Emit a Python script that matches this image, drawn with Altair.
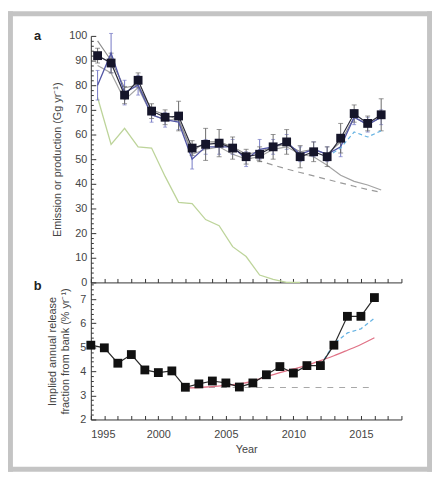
import altair as alt
import pandas as pd

# ---------------- data ----------------
years = list(range(1995, 2017))

# panel a: emissions (Gg/yr)
obs_a = [92, 89, 76, 82, 69.5, 67, 67.5, 54.5, 56, 56.5, 54.5, 51, 52, 55, 57, 51, 53, 51, 58.5, 68.5, 64.5, 68]
obs_a_err = [3, 4, 3.5, 3, 3, 3, 6, 3, 6.5, 5.5, 4.5, 3, 3, 5, 5, 4.5, 4, 4, 6, 3.5, 3, 6.5]
blue_a = [80, 93, 77, 80, 68, 66, 65, 50, 55, 55, 55, 50, 54, 55, 57, 52, 54, 52, 55, 67, 64, 67]
blue_a_err = [6, 8, 5, 4, 3, 3, 3, 4, 3, 3, 3, 3, 4, 3, 3, 3, 3, 3, 4, 3, 3, 3]
grey1_a = [98, 90, 79, 80, 70, 68, 66, 53, 57, 57, 55, 52, 53, 55, 56, 53, 54, 52, 57, 67, 64, 67]
grey2_a = [88, 85, 74, 79, 68, 66, 66, 52, 54, 55, 52, 50, 51, 54, 55, 52, 51, 47.5, 43.5, 41, 39.5, 37.5]

dash_a_years = list(range(2006, 2017))
dash_a = [51, 49.3, 47.6, 46, 44.6, 43.2, 41.8, 40.4, 39, 37.7, 36.5]

lblue_a_years = [2012, 2013, 2014, 2015, 2016]
lblue_a = [51, 54.5, 61, 59, 61.5]

prod_years = list(range(1995, 2011))
prod_a = [75, 56, 62.5, 55, 54.5, 43, 32.5, 32, 25.5, 23, 14.5, 10.5, 3, 1.2, 0, 0]

# panel b: implied release fraction (%/yr)
obs_b = [5.09, 4.98, 4.34, 4.70, 4.06, 3.95, 4.02, 3.34, 3.48, 3.60, 3.52, 3.35, 3.52, 3.86,
         4.20, 3.93, 4.24, 4.24, 5.09, 6.29, 6.29, 7.07]
red_years = list(range(2002, 2017))
red_b = [3.3, 3.33, 3.37, 3.42, 3.48, 3.6, 3.78, 3.95, 4.1, 4.25, 4.45, 4.65, 4.88, 5.12, 5.4]
lblue_b_years = [2012, 2013, 2014, 2015, 2016]
lblue_b = [4.24, 5.15, 5.6, 5.77, 6.21]
dash_b_years = [2002, 2016]
dash_b = [3.33, 3.33]

# ---------------- styling ----------------
FONT = "Liberation Sans"
W, HA, HB = 315, 250, 139
AX = "#333333"
TXT = "#444444"
FRAME = "#c4c4c4"

xs = alt.Scale(domain=[1995, 2018], nice=False, zero=False)
ysa = alt.Scale(domain=[0, 100], nice=False, zero=True)
ysb = alt.Scale(domain=[2, 7.7], nice=False, zero=False)

dfa = pd.DataFrame({"year": years, "obs": obs_a, "obs_err": obs_a_err, "blue": blue_a,
                    "blue_err": blue_a_err, "grey1": grey1_a, "grey2": grey2_a})
df_dash_a = pd.DataFrame({"year": dash_a_years, "v": dash_a})
df_lblue_a = pd.DataFrame({"year": lblue_a_years, "v": lblue_a})
df_prod = pd.DataFrame({"year": prod_years, "v": prod_a})

dfb = pd.DataFrame({"year": years, "v": obs_b})
df_red = pd.DataFrame({"year": red_years, "v": red_b})
df_lblue_b = pd.DataFrame({"year": lblue_b_years, "v": lblue_b})
df_dash_b = pd.DataFrame({"year": dash_b_years, "v": dash_b})

one = pd.DataFrame({"k": [0]})

# axes
left_a = alt.Axis(values=list(range(0, 101, 10)), ticks=False, labelPadding=4, grid=False,
                  title="Emission or production (Gg yr⁻¹)", titlePadding=6,
                  domainColor=AX)
bottom_a = alt.Axis(labels=False, ticks=False, title=None, grid=False, domainColor=AX)
yticks_a = alt.Axis(orient="right", offset=-W, values=list(range(0, 101, 2)), labels=False,
                    domain=False, title=None, grid=False, tickColor=AX,
                    tickSize={"condition": {"test": "datum.value % 10 === 0", "value": 5}, "value": 2.5})
xticks_a = alt.Axis(orient="top", offset=-HA, values=list(range(1995, 2019)), labels=False,
                    domain=False, title=None, grid=False, tickSize=4, tickColor=AX)

left_b = alt.Axis(values=[2, 3, 4, 5, 6, 7], ticks=False, labelPadding=5, grid=False,
                  title=["Implied annual release", "fraction from bank (% yr⁻¹)"],
                  titlePadding=10, domainColor=AX)
bottom_b = alt.Axis(values=[1995, 2000, 2005, 2010, 2015], format="d", ticks=False,
                    labelPadding=9, title="Year", titlePadding=4, grid=False, domainColor=AX)
yticks_b = alt.Axis(orient="right", offset=-W, values=[round(2 + 0.2 * i, 1) for i in range(29)],
                    labels=False, domain=False, title=None, grid=False, tickColor=AX,
                    tickSize={"condition": {"test": "abs(datum.value - round(datum.value)) < 0.01",
                                            "value": 5}, "value": 2.5})
xticks_b = alt.Axis(orient="top", offset=-HB, values=list(range(1995, 2019)), labels=False,
                    domain=False, title=None, grid=False, tickSize=4, tickColor=AX)

# ---------------- panel a ----------------
ba = alt.Chart(dfa).transform_calculate(
    xp="datum.year + 0.5",
    olo="datum.obs - datum.obs_err", ohi="datum.obs + datum.obs_err",
    blo="datum.blue - datum.blue_err", bhi="datum.blue + datum.blue_err")

X = lambda axis=None: alt.X("xp:Q", scale=xs, axis=axis)

grey2_line = ba.mark_line(color="#a3a3a3", strokeWidth=1.2).encode(
    x=X(bottom_a), y=alt.Y("grey2:Q", scale=ysa, axis=left_a))
grey1_line = ba.mark_line(color="#8c8c8c", strokeWidth=1.1).encode(
    x=X(), y=alt.Y("grey1:Q", scale=ysa, axis=None))
dash_line = alt.Chart(df_dash_a).transform_calculate(xp="datum.year + 0.5").mark_line(
    color="#9a9a9a", strokeWidth=1.2, strokeDash=[6, 5]).encode(
    x=X(), y=alt.Y("v:Q", scale=ysa, axis=None))
prod_line = alt.Chart(df_prod).transform_calculate(xp="datum.year + 0.5").mark_line(
    color="#bdd49a", strokeWidth=1.3).encode(
    x=X(), y=alt.Y("v:Q", scale=ysa, axis=None))
blue_err = ba.mark_rule(color="#7478c4", strokeWidth=1).encode(
    x=X(), y=alt.Y("blo:Q", scale=ysa, axis=None), y2="bhi:Q")
blue_cap_lo = ba.mark_tick(color="#7478c4", orient="horizontal", size=4, thickness=1).encode(
    x=X(), y=alt.Y("blo:Q", scale=ysa, axis=None))
blue_cap_hi = ba.mark_tick(color="#7478c4", orient="horizontal", size=4, thickness=1).encode(
    x=X(), y=alt.Y("bhi:Q", scale=ysa, axis=None))
blue_line = ba.mark_line(color="#5256a6", strokeWidth=1.3).encode(
    x=X(), y=alt.Y("blue:Q", scale=ysa, axis=None))
obs_err = ba.mark_rule(color="#6a6a6a", strokeWidth=1).encode(
    x=X(), y=alt.Y("olo:Q", scale=ysa, axis=None), y2="ohi:Q")
obs_cap_lo = ba.mark_tick(color="#6a6a6a", orient="horizontal", size=5, thickness=1).encode(
    x=X(), y=alt.Y("olo:Q", scale=ysa, axis=None))
obs_cap_hi = ba.mark_tick(color="#6a6a6a", orient="horizontal", size=5, thickness=1).encode(
    x=X(), y=alt.Y("ohi:Q", scale=ysa, axis=None))
obs_line = ba.mark_line(color="#2a2a3a", strokeWidth=1.2).encode(
    x=X(), y=alt.Y("obs:Q", scale=ysa, axis=None))
lblue_line = alt.Chart(df_lblue_a).transform_calculate(xp="datum.year + 0.5").mark_line(
    color="#66b3e3", strokeWidth=1.2, strokeDash=[4, 3]).encode(
    x=X(), y=alt.Y("v:Q", scale=ysa, axis=None))
obs_pts = ba.mark_point(shape="square", filled=True, size=80, color="#15152a", opacity=1).encode(
    x=X(), y=alt.Y("obs:Q", scale=ysa, axis=None))
tick_layer_a = ba.mark_point(opacity=0).encode(
    x=X(xticks_a), y=alt.Y("obs:Q", scale=ysa, axis=yticks_a))
label_a = alt.Chart(one).mark_text(text="a", font=FONT, fontSize=13, fontWeight="bold",
                                   color="#222", align="center", baseline="middle").encode(
    x=alt.value(-54), y=alt.value(0))

# outer frame: four filled bands (relative to panel a's plot origin)
def band(x1, x2, y1, y2):
    return alt.Chart(one).mark_rect(color=FRAME, strokeWidth=0).encode(
        x=alt.value(x1), x2=alt.value(x2), y=alt.value(y1), y2=alt.value(y2))

frame = [band(-84, -79, -25, 442), band(341, 346, -25, 442),
         band(-84, 346, -25, -20), band(-84, 346, 437, 442)]

panel_a = alt.layer(
    *frame,
    grey2_line, grey1_line, dash_line, prod_line, blue_err, blue_cap_lo, blue_cap_hi,
    obs_err, obs_cap_lo, obs_cap_hi, blue_line, obs_line, lblue_line, obs_pts,
    tick_layer_a, label_a
).resolve_axis(x="independent", y="independent").properties(width=W, height=HA)

# ---------------- panel b ----------------
XB = lambda axis=None: alt.X("year:Q", scale=xs, axis=axis)

b_line = alt.Chart(dfb).mark_line(color="#2a2a2a", strokeWidth=1.2).encode(
    x=XB(bottom_b), y=alt.Y("v:Q", scale=ysb, axis=left_b))
red_line = alt.Chart(df_red).mark_line(color="#e07286", strokeWidth=1.3,
                                       interpolate="monotone").encode(
    x=XB(), y=alt.Y("v:Q", scale=ysb, axis=None))
lblue_b_line = alt.Chart(df_lblue_b).mark_line(color="#66b3e3", strokeWidth=1.3,
                                               strokeDash=[4, 3]).encode(
    x=XB(), y=alt.Y("v:Q", scale=ysb, axis=None))
dash_b_line = alt.Chart(df_dash_b).mark_line(color="#a8a8a8", strokeWidth=1.2,
                                             strokeDash=[6, 6]).encode(
    x=XB(), y=alt.Y("v:Q", scale=ysb, axis=None))
b_pts = alt.Chart(dfb).mark_point(shape="square", filled=True, size=80, color="#111111",
                                  opacity=1).encode(
    x=XB(), y=alt.Y("v:Q", scale=ysb, axis=None))
tick_layer_b = alt.Chart(dfb).mark_point(opacity=0).encode(
    x=XB(xticks_b), y=alt.Y("v:Q", scale=ysb, axis=yticks_b))
label_b = alt.Chart(one).mark_text(text="b", font=FONT, fontSize=13, fontWeight="bold",
                                   color="#222", align="center", baseline="middle").encode(
    x=alt.value(-54), y=alt.value(4))

panel_b = alt.layer(
    dash_b_line, red_line, lblue_b_line, b_line, b_pts, tick_layer_b, label_b
).resolve_axis(x="independent", y="independent").properties(width=W, height=HB)

chart = alt.vconcat(panel_a, panel_b, spacing=0, bounds="flush").properties(
    padding=0
).configure_view(stroke=None).configure_axis(
    labelFont=FONT, titleFont=FONT, labelFontSize=11, titleFontSize=11,
    labelColor=TXT, titleColor=TXT, titleFontWeight="normal", domainWidth=1
)

chart.save("out.html", embed_options={"renderer": "svg", "actions": False})
